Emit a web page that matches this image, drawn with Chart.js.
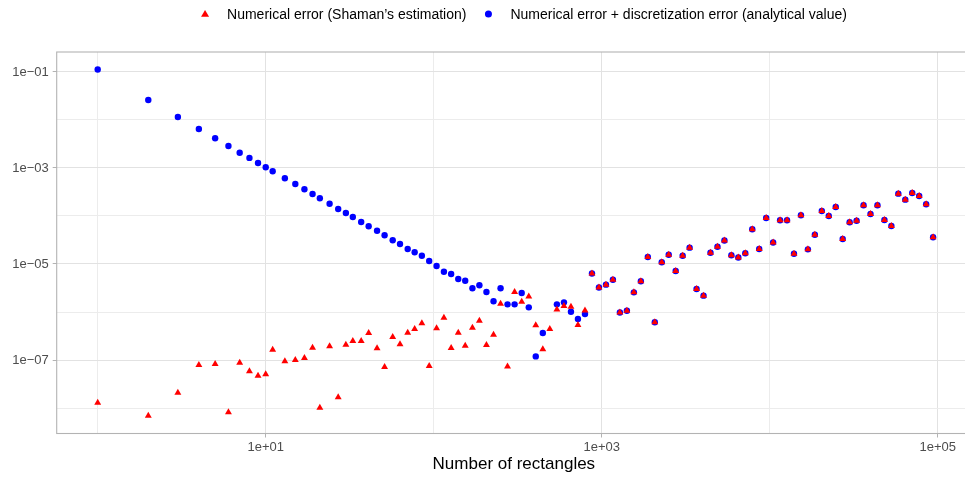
<!DOCTYPE html>
<html>
<head>
<meta charset="utf-8">
<script src="https://cdn.jsdelivr.net/npm/chart.js@4/dist/chart.umd.min.js"></script>
<style>
  html, body { margin: 0; padding: 0; background: #fff; overflow: hidden; }
  #wrap { position: relative; width: 965px; height: 478px; overflow: hidden; }
  #chart { position: absolute; left: 0; top: 0; width: 975px; height: 478px; display: block; }
</style>
</head>
<body>
<div id="wrap"><canvas id="chart" width="975" height="478"></canvas></div>
<script>
const rectangles = [1, 2, 3, 4, 5, 6, 7, 8, 9, 10, 11, 13, 15, 17, 19, 21, 24, 27, 30, 33,
  37, 41, 46, 51, 57, 63, 70, 77, 85, 94, 104, 115, 127, 140, 154, 170, 187, 206, 227, 250,
  275, 303, 334, 368, 405, 446, 491, 541, 596, 656, 722, 795,
  875, 963, 1060, 1166, 1283, 1412, 1554, 1710, 1881, 2070,
  2277, 2505, 2756, 3032, 3336, 3670, 4037, 4441, 4886, 5375,
  5913, 6505, 7156, 7872, 8660, 9526, 10479, 11527, 12680, 13948,
  15343, 16878, 18566, 20423, 22466, 24713, 27185, 29904, 32895, 36185,
  39804, 43785, 48164, 52981, 58280, 64108, 70519, 77571, 85329, 93862];

// Numerical error (Shaman's estimation)
const shamanError = [1.29e-8, 6.92e-9, 2.08e-8, 7.87e-8, 8.26e-8, 8.13e-9, 8.79e-8, 5.82e-8, 4.71e-8, 5.04e-8, 1.64e-7,
  9.4e-8, 1.0e-7, 1.10e-7, 1.80e-7, 1.01e-8, 1.93e-7, 1.67e-8, 2.08e-7, 2.49e-7,
  2.49e-7, 3.65e-7, 1.75e-7, 7.15e-8, 3.01e-7, 2.12e-7, 3.7e-7, 4.43e-7, 5.82e-7, 7.5e-8,
  4.57e-7, 7.6e-7, 1.78e-7, 3.7e-7, 1.99e-7, 4.71e-7, 6.59e-7, 2.05e-7, 3.37e-7, 1.49e-6,
  7.33e-8, 2.61e-6, 1.64e-6, 2.10e-6, 5.28e-7, 1.67e-7, 4.43e-7, 1.13e-6, 1.33e-6, 1.29e-6,
  5.36e-7, 1.08e-6,
  6.34e-6, 3.24e-6, 3.71e-6, 4.71e-6, 9.77e-7, 1.064e-6, 2.57e-6, 4.36e-6, 1.40e-5, 6.1e-7,
  1.084e-5, 1.563e-5, 7.15e-6, 1.49e-5, 2.19e-5, 3.01e-6, 2.19e-6, 1.71e-5, 2.29e-5, 3.09e-5,
  1.52e-5, 1.365e-5, 1.67e-5, 5.28e-5, 2.05e-5, 9.08e-5, 2.81e-5, 8.13e-5, 8.13e-5, 1.64e-5,
  1.035e-4, 2.02e-5, 4.07e-5, 1.27e-4, 1.0e-4, 1.54e-4, 3.32e-5, 7.4e-5, 7.98e-5, 1.67e-4,
  1.10e-4, 1.67e-4, 8.25e-5, 6.19e-5, 2.92e-4, 2.19e-4, 3.01e-4, 2.61e-4, 1.75e-4, 3.6e-5];

// Numerical error + discretization error (analytical value)
const analyticalError = [0.112, 0.0261, 0.01155, 0.00649, 0.00416, 0.00287, 0.00208, 0.00162, 0.00127, 0.001035, 8.53e-4,
  6.1e-4, 4.64e-4, 3.6e-4, 2.87e-4, 2.34e-4, 1.8e-4, 1.4e-4, 1.155e-4, 9.53e-5,
  7.5e-5, 6.1e-5, 4.94e-5, 3.96e-5, 3.12e-5, 2.61e-5, 2.05e-5, 1.75e-5, 1.49e-5, 1.155e-5,
  9.1e-6, 6.9e-6, 6.19e-6, 4.87e-6, 4.49e-6, 3.12e-6, 3.6e-6, 2.61e-6, 1.67e-6, 3.12e-6,
  1.445e-6, 1.445e-6, 2.49e-6, 1.25e-6, 1.19e-7, 3.65e-7, null, 1.445e-6, 1.59e-6, 1.01e-6,
  7.15e-7, 9.1e-7,
  6.34e-6, 3.24e-6, 3.71e-6, 4.71e-6, 9.77e-7, 1.064e-6, 2.57e-6, 4.36e-6, 1.40e-5, 6.1e-7,
  1.084e-5, 1.563e-5, 7.15e-6, 1.49e-5, 2.19e-5, 3.01e-6, 2.19e-6, 1.71e-5, 2.29e-5, 3.09e-5,
  1.52e-5, 1.365e-5, 1.67e-5, 5.28e-5, 2.05e-5, 9.08e-5, 2.81e-5, 8.13e-5, 8.13e-5, 1.64e-5,
  1.035e-4, 2.02e-5, 4.07e-5, 1.27e-4, 1.0e-4, 1.54e-4, 3.32e-5, 7.4e-5, 7.98e-5, 1.67e-4,
  1.10e-4, 1.67e-4, 8.25e-5, 6.19e-5, 2.92e-4, 2.19e-4, 3.01e-4, 2.61e-4, 1.75e-4, 3.6e-5];

const xGridValues = [1, 10, 100, 1000, 10000, 100000];
const xTickLabels = ["", "1e+01", "", "1e+03", "", "1e+05"];
const yGridValues = [1e-8, 1e-7, 1e-6, 1e-5, 1e-4, 1e-3, 1e-2, 1e-1];
const yTickLabels = ["", "1e\u221207", "", "1e\u221205", "", "1e\u221203", "", "1e\u221201"];

const FONT = '"Liberation Sans", Arial, Helvetica, sans-serif';

function toPoints(ys) {
  return rectangles
    .map((n, i) => ({ x: n, y: ys[i] }))
    .filter((p) => p.y !== null);
}

const gridColor = (labels) => (ctx) =>
  labels[ctx.index] ? "#e2e2e2" : "#ececec";
const tickColor = (labels) => (ctx) =>
  labels[ctx.index] ? "#b3b3b3" : "rgba(0,0,0,0)";

// ggplot-style legend centred above the panel
const topLegend = {
  id: "topLegend",
  afterDraw(chart) {
    const ctx = chart.ctx;
    ctx.save();
    ctx.font = "14px " + FONT;
    const gap = 22;
    const items = chart.data.datasets.map((ds) => ({
      label: ds.label,
      color: ds.backgroundColor,
      style: ds.pointStyle,
      w: ctx.measureText(ds.label).width,
    }));
    const total =
      items.reduce((s, it) => s + gap + it.w, 0) + gap * (items.length - 1) + 4;
    let x = 524 - total / 2 + 4;
    items.forEach((it) => {
      ctx.fillStyle = it.color;
      ctx.beginPath();
      if (it.style === "triangle") {
        const r = 4.6;
        ctx.moveTo(x, 14.5 - r);
        ctx.lineTo(x + r * 0.866, 14.5 + r / 2);
        ctx.lineTo(x - r * 0.866, 14.5 + r / 2);
        ctx.closePath();
      } else {
        ctx.arc(x, 14, 3.5, 0, Math.PI * 2);
      }
      ctx.fill();
      ctx.fillStyle = "#000";
      ctx.textBaseline = "middle";
      ctx.textAlign = "left";
      ctx.fillText(it.label, x + gap, 15);
      x += gap + it.w + gap;
    });
    ctx.restore();
  },
};

// grey panel border drawn over the points
const panelBorder = {
  id: "panelBorder",
  afterDatasetsDraw(chart) {
    const { ctx, chartArea: a } = chart;
    ctx.save();
    ctx.strokeStyle = "#b3b3b3";
    ctx.lineWidth = 1.1;
    ctx.strokeRect(a.left, a.top, a.right - a.left, a.bottom - a.top);
    ctx.restore();
  },
};

new Chart(document.getElementById("chart"), {
  type: "scatter",
  data: {
    datasets: [
      {
        label: "Numerical error (Shaman\u2019s estimation)",
        data: toPoints(shamanError),
        pointStyle: "triangle",
        backgroundColor: "#ff0000",
        borderWidth: 0,
        pointRadius: 4,
      },
      {
        label: "Numerical error + discretization error (analytical value)",
        data: toPoints(analyticalError),
        pointStyle: "circle",
        backgroundColor: "#0000ff",
        borderWidth: 0,
        pointRadius: 3.2,
      },
    ],
  },
  options: {
    responsive: false,
    animation: false,
    devicePixelRatio: 1,
    events: [],
    layout: { padding: { top: 52, right: 1.3, bottom: 0, left: 0 } },
    plugins: {
      legend: { display: false },
      tooltip: { enabled: false },
    },
    scales: {
      x: {
        type: "logarithmic",
        bounds: "data",
        min: 0.57,
        max: 157800,
        afterBuildTicks: (s) => {
          s.ticks = xGridValues.map((v) => ({ value: v }));
        },
        afterFit: (s) => {
          s.height = 44.5;
        },
        ticks: {
          autoSkip: false,
          maxRotation: 0,
          padding: 2,
          color: "#4d4d4d",
          font: { size: 13, family: FONT },
          callback: (v, i) => xTickLabels[i],
        },
        grid: {
          color: gridColor(xTickLabels),
          lineWidth: 1,
          tickLength: 4,
          tickColor: tickColor(xTickLabels),
        },
        border: { display: false },
        title: {
          display: true,
          text: "Number of rectangles",
          color: "#000",
          font: { size: 17, family: FONT },
          padding: { top: 0, bottom: 3 },
        },
      },
      y: {
        type: "logarithmic",
        bounds: "data",
        min: 2.95e-9,
        max: 0.26,
        afterBuildTicks: (s) => {
          s.ticks = yGridValues.map((v) => ({ value: v }));
        },
        afterFit: (s) => {
          s.width = 56.7;
        },
        ticks: {
          autoSkip: false,
          padding: 4,
          color: "#4d4d4d",
          font: { size: 13, family: FONT },
          callback: (v, i) => yTickLabels[i],
        },
        grid: {
          color: gridColor(yTickLabels),
          lineWidth: 1,
          tickLength: 4,
          tickColor: tickColor(yTickLabels),
        },
        border: { display: false },
      },
    },
  },
  plugins: [topLegend, panelBorder],
});
</script>
</body>
</html>
